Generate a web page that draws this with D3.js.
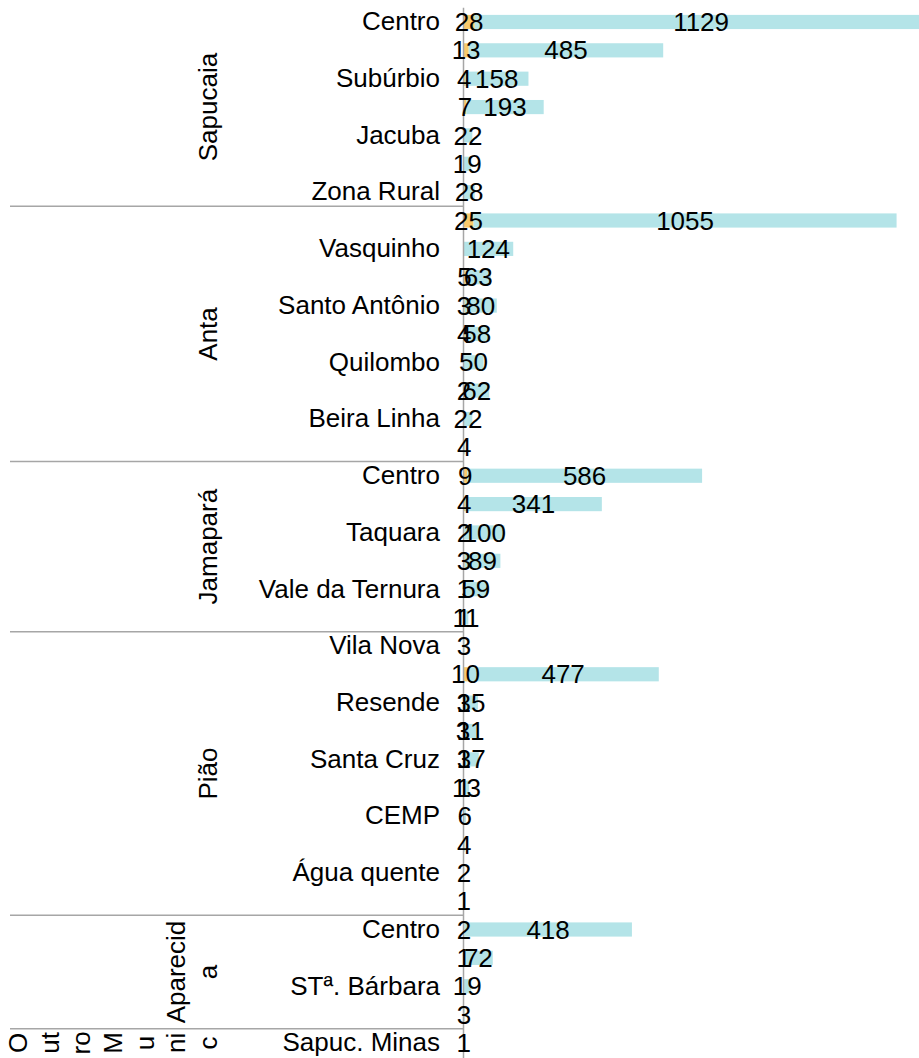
<!DOCTYPE html>
<html lang="pt-BR">
<head>
    <meta charset="UTF-8">
    <title>Bairros por município</title>
    <script src="https://cdnjs.cloudflare.com/ajax/libs/d3/7.8.5/d3.min.js"></script>
    <style>
        body {
            margin: 0;
            padding: 0;
            background-color: #ffffff;
            overflow: hidden;
        }
        svg {
            display: block;
            font-family: "Liberation Sans", Arial, sans-serif;
        }
        .label {
            font-size: 26px;
            fill: #000;
        }
    </style>
</head>
<body>
    <svg width="919" height="1058"></svg>

    <script>
        // municípios e número de linhas (bairros) de cada um
        const groups = ["Sapucaia", "Anta", "Jamapará", "Pião", "Aparecida", "Outro Municipio"];
        const groupSizes = [7, 9, 6, 10, 4, 1];

        // bairros (as linhas sem rótulo visível ficam vazias)
        const places = [
            "Centro", "", "Subúrbio", "", "Jacuba", "", "Zona Rural",
            "", "Vasquinho", "", "Santo Antônio", "", "Quilombo", "", "Beira Linha", "",
            "Centro", "", "Taquara", "", "Vale da Ternura", "",
            "Vila Nova", "", "Resende", "", "Santa Cruz", "", "CEMP", "", "Água quente", "",
            "Centro", "", "STª. Bárbara", "",
            "Sapuc. Minas"
        ];

        // série laranja
        const seriesA = [
            28, 13, 4, 7, null, null, null,
            25, null, 5, 3, 4, null, 2, null, null,
            9, 4, 2, 3, 1, 1,
            null, 10, 1, 1, 1, 1, null, null, null, null,
            2, 1, null, null,
            null
        ];

        // série azul
        const seriesB = [
            1129, 485, 158, 193, 22, 19, 28,
            1055, 124, 63, 80, 58, 50, 62, 22, 4,
            586, 341, 100, 89, 59, 11,
            3, 477, 35, 31, 37, 13, 6, 4, 2, 1,
            418, 72, 19, 3,
            1
        ];

        // quebras do rótulo de "Outro Municipio" como aparecem no eixo
        const outroLines = ["O", "ut", "ro", "M", "u", "ni", "c"];

        const svg = d3.select("svg");
        const rows = places.map((p, i) => ({ i, place: p, a: seriesA[i], b: seriesB[i] }));

        const y = d3.scaleBand()
            .domain(d3.range(places.length))
            .range([7.8, 7.8 + places.length * 28.36])
            .paddingInner(0.5)
            .paddingOuter(0.25);

        const x = d3.scaleLinear()
            .domain([0, 1200])
            .range([463.5, 463.5 + 1200 * 0.401]);

        const rowCenter = i => y(i) + y.bandwidth() / 2;

        // barras laranja
        svg.append("g")
            .selectAll("rect")
            .data(rows.filter(d => d.a))
            .enter().append("rect")
            .attr("x", x(0))
            .attr("y", d => y(d.i))
            .attr("width", d => x(d.a) - x(0))
            .attr("height", y.bandwidth())
            .attr("fill", "#f8ca6c");

        // barras azuis, empilhadas depois da laranja
        svg.append("g")
            .selectAll("rect")
            .data(rows.filter(d => d.b))
            .enter().append("rect")
            .attr("x", d => x(d.a || 0))
            .attr("y", d => y(d.i))
            .attr("width", d => x((d.a || 0) + d.b) - x(d.a || 0))
            .attr("height", y.bandwidth())
            .attr("fill", "#b4e4e8");

        // eixo de categorias
        const axis = svg.append("g")
            .attr("transform", `translate(${x(0)},0)`)
            .call(d3.axisLeft(y).tickSize(0).tickPadding(23.5).tickFormat(i => places[i]));
        axis.select(".domain").remove();
        axis.selectAll("text")
            .attr("class", "label")
            .attr("font-family", null)
            .attr("fill", "#000");

        // linha do eixo
        svg.append("line")
            .attr("x1", x(0)).attr("x2", x(0))
            .attr("y1", y.range()[0]).attr("y2", 1058)
            .attr("stroke", "#a6a6a6")
            .attr("stroke-width", 1.5);

        // separadores e rótulos dos municípios
        let start = 0;
        groups.forEach((g, k) => {
            const end = start + groupSizes[k];
            const top = y(start) - y.step() * 0.25;
            const bottom = y(end - 1) + y.bandwidth() + y.step() * 0.25;
            const cy = (top + bottom) / 2;
            if (k > 0) {
                svg.append("line")
                    .attr("x1", 10).attr("x2", x(0))
                    .attr("y1", top).attr("y2", top)
                    .attr("stroke", "#a6a6a6")
                    .attr("stroke-width", 1.5);
            }
            let lines;
            if (g === "Aparecida") lines = ["Aparecid", "a"];
            else if (g === "Outro Municipio") lines = outroLines;
            else lines = [g];
            const pitch = 31.7;
            lines.forEach((t, j) => {
                const bx = 217 - (lines.length - 1 - j) * pitch;
                svg.append("text")
                    .attr("class", "label")
                    .attr("transform", `translate(${bx},${cy}) rotate(-90)`)
                    .attr("text-anchor", "middle")
                    .text(t);
            });
            start = end;
        });

        // rótulos de valores
        const labels = svg.append("g");
        labels.selectAll("text.a")
            .data(rows.filter(d => d.a))
            .enter().append("text")
            .attr("class", "label")
            .attr("x", d => x(d.a / 2))
            .attr("y", d => rowCenter(d.i))
            .attr("dy", "0.35em")
            .attr("text-anchor", "middle")
            .text(d => d.a);

        labels.selectAll("text.b")
            .data(rows.filter(d => d.b))
            .enter().append("text")
            .attr("class", "label")
            .attr("x", d => x((d.a || 0) + d.b / 2))
            .attr("y", d => rowCenter(d.i))
            .attr("dy", "0.35em")
            .attr("text-anchor", "middle")
            .text(d => d.b);
    </script>
</body>
</html>
